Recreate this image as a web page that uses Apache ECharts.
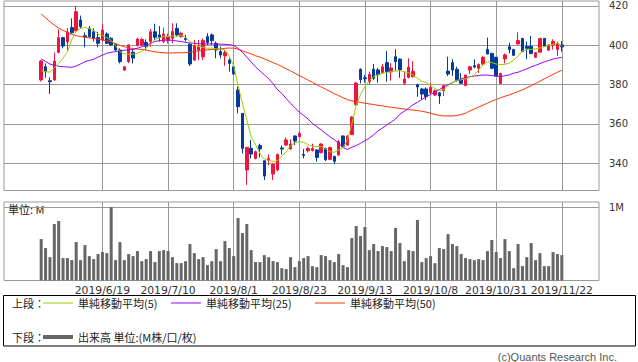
<!DOCTYPE html>
<html><head><meta charset="utf-8">
<script src="https://cdn.jsdelivr.net/npm/echarts@6/dist/echarts.min.js"></script>
<style>html,body{margin:0;padding:0;background:#fff;}#c{width:638px;height:362px;}</style>
</head><body><div id="c"></div>
<script>
const dates = [
'2019/5/30','2019/5/31',
'2019/6/3','2019/6/4','2019/6/5','2019/6/6','2019/6/7','2019/6/10','2019/6/11','2019/6/12','2019/6/13','2019/6/14','2019/6/17','2019/6/18','2019/6/19','2019/6/20','2019/6/21','2019/6/24','2019/6/25','2019/6/26','2019/6/27','2019/6/28',
'2019/7/1','2019/7/2','2019/7/3','2019/7/4','2019/7/5','2019/7/8','2019/7/9','2019/7/10','2019/7/11','2019/7/12','2019/7/16','2019/7/17','2019/7/18','2019/7/19','2019/7/22','2019/7/23','2019/7/24','2019/7/25','2019/7/26','2019/7/29','2019/7/30','2019/7/31',
'2019/8/1','2019/8/2','2019/8/5','2019/8/6','2019/8/7','2019/8/8','2019/8/9','2019/8/13','2019/8/14','2019/8/15','2019/8/16','2019/8/19','2019/8/20','2019/8/21','2019/8/22','2019/8/23','2019/8/26','2019/8/27','2019/8/28','2019/8/29','2019/8/30',
'2019/9/2','2019/9/3','2019/9/4','2019/9/5','2019/9/6','2019/9/9','2019/9/10','2019/9/11','2019/9/12','2019/9/13','2019/9/17','2019/9/18','2019/9/19','2019/9/20','2019/9/24','2019/9/25','2019/9/26','2019/9/27','2019/9/30',
'2019/10/1','2019/10/2','2019/10/3','2019/10/4','2019/10/7','2019/10/8','2019/10/9','2019/10/10','2019/10/11','2019/10/15','2019/10/16','2019/10/17','2019/10/18','2019/10/21','2019/10/23','2019/10/24','2019/10/25','2019/10/28','2019/10/29','2019/10/30','2019/10/31',
'2019/11/1','2019/11/5','2019/11/6','2019/11/7','2019/11/8','2019/11/11','2019/11/12','2019/11/13','2019/11/14','2019/11/15','2019/11/18','2019/11/19','2019/11/20','2019/11/21','2019/11/22'];

const opens = [
382.4,389.1,382.0,382.4,396.4,403.9,401.7,409.0,407.5,412.9,
404.9,408.6,406.9,403.9,402.7,405.8,403.6,400.7,397.6,387.4,
391.7,396.5,400.0,400.2,401.5,401.9,406.9,405.3,401.9,402.5,
403.6,408.6,404.4,403.6,400.5,392.5,397.6,394.2,404.4,405.3,
401.0,396.8,394.6,392.5,389.1,377.3,365.4,336.6,347.6,342.5,
349.0,341.3,341.5,334.5,336.6,347.8,349.3,347.3,353.9,353.5,
344.5,346.4,346.5,346.8,345.4,347.5,342.0,343.5,344.2,353.9,
349.3,354.6,369.8,387.8,383.5,381.5,387.8,387.5,386.1,391.2,
386.5,394.2,393.0,380.7,383.7,384.0,380.0,377.8,377.8,375.9,
374.7,375.9,376.9,386.9,391.2,387.8,382.4,379.5,387.4,389.6,
388.3,390.5,397.9,395.9,393.9,380.6,393.1,399.3,397.9,400.7,
403.5,399.5,399.5,393.9,396.5,403.5,397.5,400.2,397.9,400.2];
const highs = [
392.5,390.8,383.7,396.3,408.1,404.3,408.8,413.7,420.0,415.1,
406.6,409.8,408.6,406.9,410.8,406.6,404.1,401.0,398.5,389.5,
400.5,397.6,403.9,403.9,403.0,408.3,411.0,409.8,409.0,406.0,
411.2,411.2,407.0,405.3,401.0,402.7,402.7,403.6,406.1,406.1,
401.9,399.3,397.6,393.4,389.5,379.0,365.4,348.3,351.9,346.5,
350.0,341.5,344.5,340.0,345.0,349.1,353.2,352.2,354.2,356.1,
347.3,348.5,350.0,347.0,350.2,348.0,348.5,343.8,352.0,354.2,
354.2,364.0,381.5,388.3,385.0,386.6,390.5,388.5,390.5,397.0,
391.0,398.0,393.4,386.6,393.4,392.0,380.4,378.2,378.6,380.7,
377.5,376.2,379.7,394.2,392.9,389.1,385.8,385.0,389.5,392.9,
390.8,394.5,403.9,396.2,394.2,386.0,395.9,401.3,398.2,406.6,
403.8,401.9,404.7,396.5,403.6,403.8,400.4,403.1,401.9,402.2];
const lows = [
381.5,383.5,375.3,382.0,395.9,398.5,397.3,406.0,407.0,408.6,
399.0,404.0,401.9,399.0,401.9,400.7,399.7,397.0,390.8,387.0,
391.0,390.8,399.3,399.7,397.5,399.3,402.7,401.9,401.0,401.0,
401.0,404.4,404.0,401.9,389.5,392.0,392.5,392.5,400.2,400.2,
393.4,393.4,389.6,386.6,385.0,365.4,345.0,329.0,342.5,342.0,
343.0,331.5,339.0,331.5,336.0,344.5,349.0,347.0,349.3,353.0,
342.5,345.5,346.0,340.8,345.0,341.2,341.8,339.6,344.0,348.0,
349.0,354.4,369.5,380.7,381.0,379.8,382.4,381.0,385.8,381.5,
382.0,387.1,383.5,379.8,383.2,383.7,373.9,372.5,372.2,375.2,
374.2,370.2,374.2,384.4,384.4,381.5,380.5,379.3,385.4,388.3,
386.0,389.5,395.4,387.8,384.2,380.4,390.8,395.9,394.7,400.3,
396.6,392.9,395.6,393.6,396.3,399.4,397.3,397.9,394.5,396.8];
const closes = [
392.0,386.6,381.5,392.0,403.9,399.6,406.8,406.4,417.1,409.5,
404.3,404.4,403.5,401.0,407.8,401.0,400.2,397.6,391.7,389.1,
400.2,393.5,403.2,403.0,399.5,406.9,404.1,404.1,405.8,404.5,
407.0,405.3,406.1,403.0,390.5,399.7,399.3,402.4,401.4,402.4,
397.6,395.1,396.3,390.8,385.4,368.8,347.6,348.1,344.7,345.9,
347.3,333.5,342.5,339.5,344.5,347.3,351.9,349.8,351.3,355.2,
344.0,347.6,347.5,343.0,349.8,341.8,348.0,341.0,351.0,348.6,
353.9,363.5,380.8,382.6,383.0,385.2,383.2,385.0,389.1,386.6,
388.5,391.7,387.5,382.9,388.8,386.8,378.8,375.2,373.9,378.6,
376.9,374.2,379.5,385.4,387.4,382.1,380.7,384.9,389.1,389.0,
390.3,393.9,395.6,388.3,384.4,385.7,395.1,397.8,394.9,402.4,
396.8,398.5,395.8,396.3,403.5,399.6,400.2,401.9,400.8,399.2];

const ma5 = [
387.1,386.6,386.3,388.5,390.8,393.5,396.8,403.0,407.0,408.6,
409.1,408.5,407.5,405.8,405.0,403.9,402.5,399.8,396.8,395.8,
395.4,395.5,395.9,397.0,398.5,400.5,403.0,403.8,404.4,404.5,
404.7,404.7,405.2,404.0,401.9,400.5,399.3,399.0,398.5,398.6,
398.2,398.0,397.6,394.5,389.5,379.5,370.5,362.0,353.5,349.5,
345.0,342.2,341.5,340.9,341.3,343.5,345.9,349.0,350.5,351.0,
350.7,349.5,348.6,348.5,348.5,347.4,345.8,345.6,346.8,348.0,
352.0,360.0,369.5,375.0,379.0,382.0,384.1,385.0,385.8,386.2,
386.6,386.9,387.1,386.6,386.1,384.8,383.2,381.8,381.0,379.8,
378.0,377.0,377.5,379.5,381.0,382.2,382.5,382.9,383.8,385.0,
387.5,390.0,391.7,391.2,390.5,390.2,390.3,391.0,392.5,394.5,
397.2,397.8,397.9,398.2,398.6,399.3,400.0,400.6,401.0,399.6];
const ma25 = [
393.1,391.8,390.5,389.8,389.4,389.1,389.0,388.8,389.5,390.5,
391.7,392.3,392.9,394.0,395.0,396.0,396.4,396.8,397.3,397.5,
397.7,397.9,398.5,399.3,400.0,401.0,402.0,402.3,402.6,402.7,
402.5,402.2,401.9,401.5,401.2,401.0,400.8,400.7,400.7,400.7,
400.7,400.6,400.5,400.3,400.0,398.5,396.5,394.0,391.5,389.0,
387.0,385.0,383.0,380.5,377.5,375.5,373.0,370.5,368.3,366.0,
364.3,362.5,360.3,358.6,357.0,355.2,353.5,352.0,350.2,348.0,
347.0,348.2,349.0,350.2,351.5,352.8,354.5,356.5,358.0,359.5,
361.0,362.5,365.0,366.5,368.0,369.8,371.0,372.5,373.8,375.0,
376.2,377.5,378.8,380.0,381.0,382.2,383.0,383.5,384.0,384.4,
384.7,384.9,384.9,384.6,384.3,384.1,384.5,385.0,385.8,386.3,
387.2,388.0,389.0,389.8,390.7,391.6,392.3,393.0,393.5,393.9];
const ma50 = [
415.9,414.0,412.0,410.3,408.8,407.6,406.6,405.6,404.9,404.5,
404.1,403.8,403.5,403.1,402.7,402.3,401.9,400.7,400.0,399.3,
398.7,398.4,398.1,397.9,397.6,397.1,396.7,396.4,396.2,396.1,
396.1,396.2,396.2,396.3,396.5,396.8,397.2,397.5,397.7,397.9,
398.0,398.1,398.5,398.6,398.6,398.0,397.2,396.4,395.6,394.7,
394.0,393.1,392.2,391.2,390.3,389.2,388.1,387.0,385.8,384.6,
383.5,382.3,381.2,379.9,378.8,377.7,376.6,375.4,374.4,373.3,
372.4,371.8,371.3,371.0,370.6,370.2,369.9,369.5,369.2,368.8,
368.5,368.2,367.9,367.6,367.3,367.1,366.8,366.5,366.0,365.5,
364.9,364.3,364.1,364.1,364.1,364.3,364.8,365.5,366.6,367.6,
368.6,369.6,370.6,371.6,372.5,373.3,374.1,374.8,375.6,376.5,
377.4,378.4,379.5,380.6,381.8,382.9,384.1,385.2,386.3,387.3];

const volumes = [
0.567,0.444,0.320,0.773,0.815,0.307,0.307,0.279,0.526,0.279,
0.485,0.334,0.293,0.362,0.389,0.375,1.007,0.279,0.526,0.279,
0.362,0.334,0.403,0.265,0.293,0.403,0.252,0.403,0.416,0.403,
0.320,0.238,0.238,0.265,0.499,0.375,0.293,0.320,0.211,0.265,
0.430,0.265,0.540,0.444,0.334,0.856,0.650,0.773,0.416,0.252,
0.252,0.348,0.320,0.265,0.252,0.169,0.156,0.320,0.183,0.265,
0.307,0.334,0.197,0.183,0.348,0.334,0.279,0.252,0.362,0.211,
0.183,0.581,0.746,0.609,0.732,0.416,0.499,0.403,0.471,0.458,
0.403,0.719,0.513,0.265,0.416,0.403,0.828,0.252,0.307,0.334,
0.238,0.444,0.430,0.636,0.499,0.471,0.362,0.307,0.293,0.279,
0.293,0.279,0.403,0.554,0.389,0.307,0.567,0.403,0.169,0.499,
0.197,0.320,0.513,0.279,0.375,0.197,0.197,0.389,0.362,0.348];

const priceTicks = [340, 360, 380, 400, 420];
const volumeTicks = [1];
const dateTickLabels = ['2019/6/19','2019/7/10','2019/8/1','2019/8/23','2019/9/13','2019/10/8','2019/10/31','2019/11/22'];
const maNames = ['単純移動平均(5)', '単純移動平均(25)', '単純移動平均(50)'];
const maColors = ['#9acd00', '#9a00ff', '#ff3300'];
const volumeName = '出来高 単位:(M株/口/枚)';

const PAD = 8, SLOTS = 136;
const RED = '#f0143c', BLUE = '#043a9c';
const GRIDC = '#999999';
const tickIdx = dateTickLabels.map(l => dates.indexOf(l) + PAD);
const candleData = dates.map((d, k) => [k + PAD, opens[k], closes[k], lows[k], highs[k]]);
const pair = arr => arr.map((v, k) => [k + PAD, v]);

const chart = echarts.init(document.getElementById('c'), null, {renderer: 'svg', width: 638, height: 362});
const lblFont = {fontFamily: 'DejaVu Sans', fontSize: 10, color: '#333'};
const cjk = '"Noto Sans CJK JP"';
const legendText = {fontFamily: cjk, fontSize: 11, color: '#222', lineHeight: 14};
const legendLefts = [43, 171, 315];

chart.setOption({
  animation: false,
  grid: [
    {left: 4, top: 1, width: 595, height: 189.5, show: true, borderColor: GRIDC, borderWidth: 1},
    {left: 4, top: 202, width: 595, height: 78.5, show: true, borderColor: GRIDC, borderWidth: 1}
  ],
  xAxis: [
    {type: 'value', gridIndex: 0, min: -0.5, max: SLOTS - 0.5,
     axisLine: {show: false}, axisTick: {show: false, customValues: tickIdx},
     axisLabel: {show: false, customValues: tickIdx},
     splitLine: {show: true, lineStyle: {color: GRIDC, width: 1}}},
    {type: 'value', gridIndex: 1, min: -0.5, max: SLOTS - 0.5,
     axisLine: {show: false}, axisTick: {show: false, customValues: tickIdx},
     axisLabel: Object.assign({show: true, customValues: tickIdx, margin: 4,
       formatter: v => dates[Math.round(v) - PAD]}, lblFont, {fontSize: 10.8}),
     splitLine: {show: true, lineStyle: {color: GRIDC, width: 1}}}
  ],
  yAxis: [
    {type: 'value', gridIndex: 0, position: 'right', min: 326.17, max: 422.54,
     axisLine: {show: false},
     axisTick: {show: true, inside: false, length: 4, customValues: priceTicks, lineStyle: {color: GRIDC}},
     axisLabel: Object.assign({customValues: priceTicks, margin: 10}, lblFont),
     splitLine: {show: true, lineStyle: {color: GRIDC, width: 1}}},
    {type: 'value', gridIndex: 1, position: 'right', min: 0, max: 1.0753,
     axisLine: {show: false},
     axisTick: {show: true, inside: false, length: 4, customValues: volumeTicks, lineStyle: {color: GRIDC}},
     axisLabel: Object.assign({customValues: volumeTicks, margin: 10, formatter: v => v + 'M'}, lblFont),
     splitLine: {show: true, lineStyle: {color: GRIDC, width: 1}}}
  ],
  legend: maNames.map((n, k) => ({
    data: [n], left: legendLefts[k], top: 296, itemWidth: 30, itemHeight: 1, icon: 'rect',
    padding: 0, selectedMode: false, textStyle: legendText
  })).concat([
    {data: [volumeName], left: 43, top: 330, itemWidth: 30, itemHeight: 4, icon: 'rect',
     padding: 0, selectedMode: false, textStyle: legendText}
  ]),
  graphic: [
    {type: 'rect', shape: {x: 3.5, y: 295.5, width: 632, height: 50.5}, style: {fill: 'none', stroke: '#000', lineWidth: 1}, silent: true},
    {type: 'text', x: 12, y: 303, style: {text: '上段：', font: '11px ' + cjk, fill: '#222', verticalAlign: 'middle'}},
    {type: 'text', x: 12, y: 337, style: {text: '下段：', font: '11px ' + cjk, fill: '#222', verticalAlign: 'middle'}},
    {type: 'text', x: 8, y: 209, style: {text: '単位: M', font: '11px ' + cjk, fill: '#222', verticalAlign: 'middle'}},
    {type: 'text', x: 617, y: 357, style: {text: '(c)Quants Research Inc.', font: '11px "Liberation Sans"', fill: '#555', align: 'right', verticalAlign: 'middle'}}
  ],
  series: [
    {type: 'candlestick', name: '株価', xAxisIndex: 0, yAxisIndex: 0, data: candleData,
     encode: {x: 0, y: [1, 2, 3, 4]}, barWidth: 3,
     itemStyle: {color: RED, color0: BLUE, borderColor: RED, borderColor0: BLUE, borderWidth: 1}},
    {type: 'line', name: maNames[2], xAxisIndex: 0, yAxisIndex: 0, data: pair(ma50), symbol: 'none',
     lineStyle: {color: maColors[2], width: 1}, itemStyle: {color: maColors[2]}},
    {type: 'line', name: maNames[1], xAxisIndex: 0, yAxisIndex: 0, data: pair(ma25), symbol: 'none',
     lineStyle: {color: maColors[1], width: 1}, itemStyle: {color: maColors[1]}},
    {type: 'line', name: maNames[0], xAxisIndex: 0, yAxisIndex: 0, data: pair(ma5), symbol: 'none',
     lineStyle: {color: maColors[0], width: 1}, itemStyle: {color: maColors[0]}},
    {type: 'bar', name: volumeName, xAxisIndex: 1, yAxisIndex: 1, data: pair(volumes), barWidth: 3,
     itemStyle: {color: '#666666'}}
  ]
});
</script></body></html>
